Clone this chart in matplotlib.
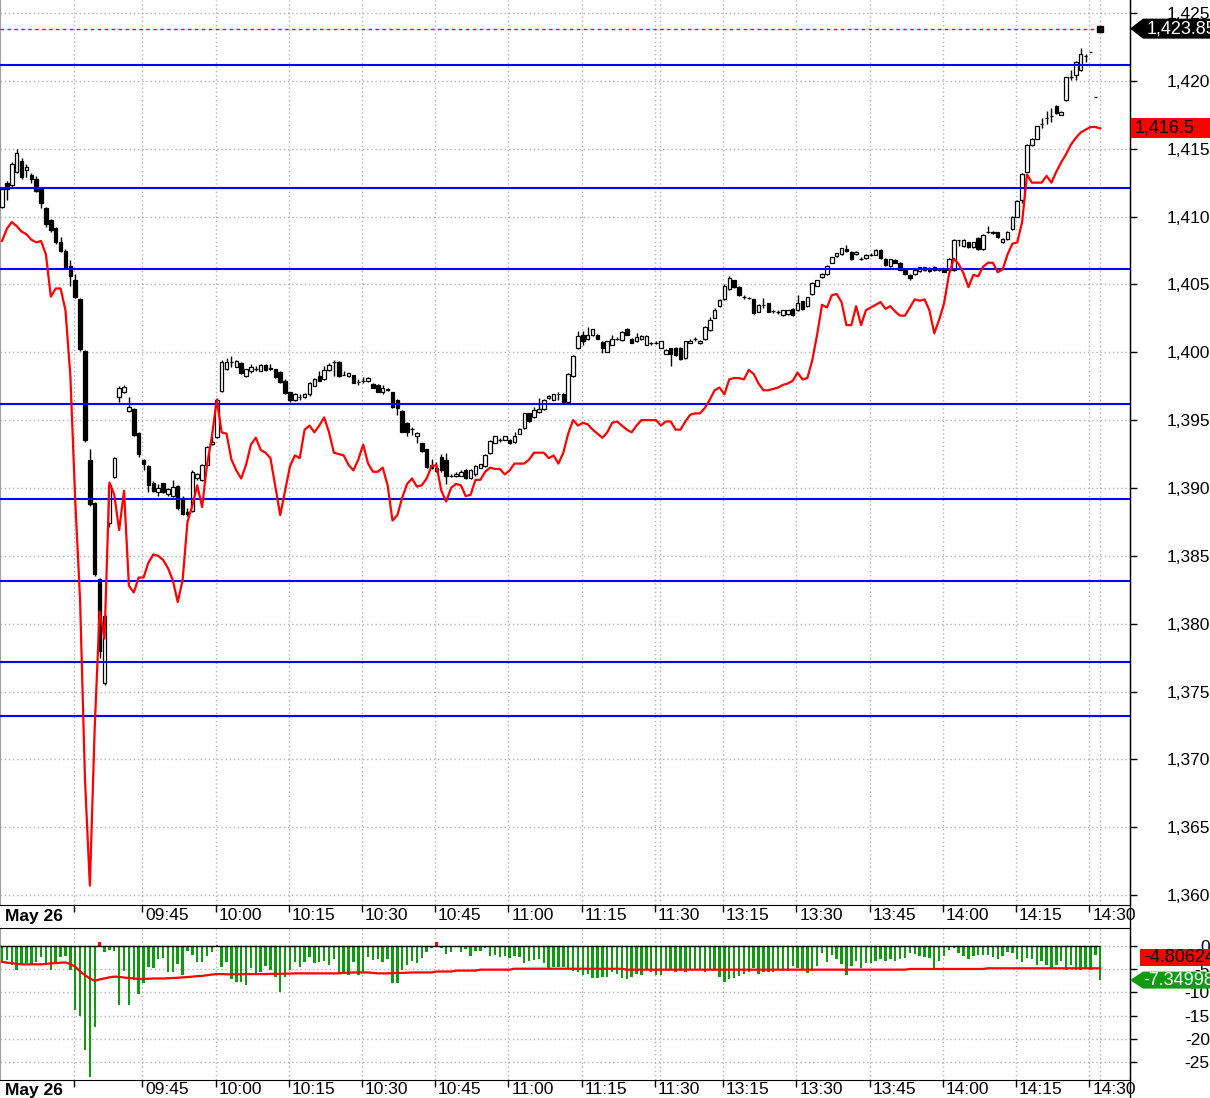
import matplotlib
matplotlib.use("Agg")
import matplotlib.pyplot as plt
import numpy as np
from matplotlib.lines import Line2D
from matplotlib.patches import Polygon
from matplotlib.ticker import FuncFormatter
from matplotlib.transforms import IdentityTransform, blended_transform_factory

plt.rcParams["font.family"] = ["Liberation Sans", "DejaVu Sans"]
plt.rcParams["font.size"] = 12.5

# ---------------------------------------------------------------------
# 1-minute bars, May 26 (09:15-11:30, 13:01-14:33)
# ---------------------------------------------------------------------
opens = [
    1410.7, 1412.5, 1412.3, 1413.3, 1414.1, 1413.4, 1413.1, 1412.75, 1412.0, 1410.6,
    1409.75, 1409.15, 1408.15, 1407.5, 1406.35, 1405.3, 1403.9, 1400.1, 1392.05, 1388.9,
    1383.3, 1375.6, 1387.45, 1390.8, 1396.7, 1397.1, 1395.7, 1395.8, 1394.05, 1392.05,
    1391.6, 1390.4, 1389.7, 1390.35, 1389.55, 1389.4, 1390.15, 1389.25, 1388.2, 1388.3,
    1390.7, 1390.6, 1391.7, 1393.25, 1393.75, 1397.15, 1398.8, 1399.3, 1398.95, 1399.2,
    1398.25, 1398.6, 1398.75, 1398.65, 1399.05, 1398.85, 1398.75, 1398.55, 1397.9, 1397.05,
    1396.5, 1396.7, 1396.7, 1396.9, 1397.55, 1398.25, 1398.0, 1398.7, 1399.3, 1399.3,
    1398.35, 1398.25, 1398.3, 1397.8, 1397.9, 1397.85, 1397.65, 1397.6, 1397.1, 1397.2,
    1397.05, 1396.5, 1395.7, 1394.8, 1394.35, 1393.85, 1393.3, 1392.85, 1391.7, 1391.25,
    1392.3, 1392.05, 1390.9, 1390.85, 1390.9, 1391.35, 1390.7, 1391.0, 1391.5, 1391.6,
    1392.55, 1393.35, 1393.55, 1393.55, 1393.55, 1393.4, 1394.0, 1394.4, 1395.5, 1395.2,
    1395.6, 1395.8, 1396.6, 1396.5, 1396.95, 1396.95, 1396.35, 1398.25, 1400.3, 1401.3,
    1400.95, 1401.25, 1401.3, 1400.75, 1400.05, 1400.55, 1401.0, 1400.9, 1401.75, 1401.0,
    1400.8, 1400.95, 1400.55, 1400.65, 1400.7, 1400.35, 1399.9, 1400.3, 1400.35, 1400.35,
    1399.55, 1400.7, 1400.95, 1400.65, 1400.95, 1401.65, 1402.55, 1403.4, 1403.9, 1404.7,
    1405.3, 1404.8, 1404.1, 1404.0, 1403.9, 1403.0, 1403.5, 1403.6, 1403.05, 1403.0, 1402.75,
    1402.8, 1403.2, 1403.1, 1403.75, 1403.4, 1404.3, 1404.9, 1405.55, 1405.75, 1406.6,
    1407.1, 1407.25, 1407.6, 1407.4, 1407.25, 1406.9, 1406.95, 1407.2, 1407.2, 1407.55,
    1406.9, 1406.35, 1406.8, 1406.6, 1406.05, 1405.7, 1405.75, 1406.0, 1406.25, 1406.2,
    1406.3, 1406.1, 1406.1, 1406.05, 1406.05, 1408.25, 1407.8, 1408.1, 1407.75, 1408.45,
    1407.6, 1408.9, 1408.8, 1408.85, 1408.1, 1408.35, 1409.05, 1410.0, 1411.2, 1413.3,
    1415.25, 1415.75, 1416.85, 1417.3, 1417.4, 1418.15, 1417.5, 1418.6, 1420.3, 1420.45,
    1420.8, 1421.8, 1422.1, 1418.8, 1423.85,
]
closes = [
    1412.0, 1412.0, 1413.9, 1414.7, 1412.9, 1413.65, 1412.8, 1411.9, 1411.0, 1409.45,
    1409.0, 1408.1, 1407.45, 1406.3, 1405.6, 1404.1, 1400.25, 1393.5, 1388.8, 1383.65,
    1378.0, 1380.6, 1390.2, 1392.2, 1397.4, 1397.45, 1396.0, 1393.9, 1392.5, 1391.8,
    1390.25, 1389.8, 1390.0, 1389.7, 1389.95, 1390.1, 1388.5, 1388.1, 1388.05, 1391.2,
    1391.05, 1391.7, 1393.0, 1393.4, 1396.5, 1399.3, 1399.3, 1399.3, 1399.35, 1398.5,
    1398.75, 1398.95, 1398.75, 1399.05, 1398.7, 1398.75, 1398.15, 1397.8, 1397.0, 1396.5,
    1396.9, 1396.7, 1396.9, 1397.75, 1398.0, 1397.9, 1398.7, 1399.05, 1399.3, 1398.25,
    1398.35, 1398.45, 1397.75, 1397.8, 1397.9, 1398.1, 1397.4, 1397.1, 1397.35, 1397.3,
    1395.95, 1395.9, 1394.15, 1394.1, 1394.35, 1394.05, 1392.7, 1391.55, 1391.45, 1391.5,
    1391.3, 1390.85, 1390.9, 1391.0, 1391.2, 1390.7, 1391.35, 1391.65, 1391.75, 1392.4,
    1393.45, 1393.8, 1393.55, 1393.8, 1393.3, 1393.8, 1394.35, 1395.5, 1394.9, 1395.75,
    1395.8, 1396.5, 1396.8, 1396.9, 1396.95, 1396.35, 1398.4, 1399.75, 1401.2, 1400.8,
    1401.3, 1401.7, 1401.0, 1400.35, 1400.8, 1401.0, 1401.0, 1401.5, 1401.3, 1400.7,
    1401.1, 1401.2, 1401.2, 1400.65, 1400.7, 1400.8, 1400.2, 1399.85, 1399.8, 1399.5,
    1400.8, 1400.8, 1400.95, 1400.8, 1401.9, 1402.4, 1403.15, 1403.85, 1404.9, 1405.5,
    1404.8, 1404.2, 1404.1, 1404.0, 1402.9, 1403.5, 1403.5, 1403.0, 1403.05, 1403.0, 1403.1,
    1403.1, 1402.75, 1403.65, 1403.2, 1404.05, 1405.1, 1405.3, 1405.8, 1406.35, 1407.0,
    1407.3, 1407.65, 1407.45, 1406.85, 1407.4, 1406.9, 1407.2, 1407.2, 1407.55, 1406.95,
    1406.4, 1406.85, 1406.6, 1406.1, 1405.75, 1405.45, 1406.1, 1406.25, 1406.05, 1406.0,
    1406.05, 1406.1, 1405.95, 1406.9, 1408.3, 1408.25, 1408.3, 1407.75, 1408.1, 1407.6,
    1408.65, 1408.9, 1408.9, 1408.5, 1408.35, 1408.9, 1410.0, 1411.15, 1413.15, 1415.3,
    1415.75, 1416.65, 1416.85, 1417.3, 1417.4, 1417.6, 1417.7, 1420.25, 1420.3, 1421.4,
    1422.0, 1421.8, 1422.1, 1418.8, 1423.85,
]
highs = [
    1412.1, 1412.6, 1414.0, 1415.0, 1414.3, 1413.9, 1413.2, 1413.0, 1412.1, 1410.7,
    1409.8, 1409.2, 1408.5, 1407.6, 1406.8, 1405.8, 1404.0, 1400.2, 1392.9, 1389.0,
    1383.4, 1380.7, 1390.3, 1392.3, 1397.5, 1397.6, 1396.7, 1395.9, 1394.1, 1392.1,
    1391.7, 1390.5, 1390.3, 1390.4, 1390.0, 1390.6, 1390.2, 1389.4, 1388.5, 1391.3,
    1391.1, 1391.8, 1393.1, 1393.9, 1396.6, 1399.4, 1399.6, 1399.7, 1399.4, 1399.3,
    1398.8, 1399.1, 1399.0, 1399.1, 1399.1, 1399.1, 1398.8, 1398.6, 1398.0, 1397.1,
    1397.0, 1396.9, 1397.0, 1397.8, 1398.1, 1398.6, 1399.0, 1399.2, 1399.4, 1399.35,
    1398.6, 1398.5, 1398.35, 1398.0, 1398.2, 1398.15, 1397.7, 1397.65, 1397.6, 1397.4,
    1397.1, 1396.55, 1395.75, 1394.85, 1394.5, 1394.1, 1393.35, 1392.9, 1392.1, 1391.9,
    1392.5, 1392.6, 1391.0, 1391.2, 1391.3, 1391.4, 1391.4, 1391.7, 1391.8, 1392.5,
    1393.5, 1393.85, 1393.7, 1393.85, 1393.6, 1394.1, 1394.4, 1395.55, 1395.55, 1396.0,
    1396.6, 1396.55, 1396.85, 1396.95, 1397.05, 1397.0, 1398.45, 1399.8, 1401.6, 1401.6,
    1401.9, 1401.75, 1401.35, 1400.8, 1400.85, 1401.3, 1401.1, 1401.55, 1401.8, 1401.05,
    1401.4, 1401.25, 1401.25, 1400.75, 1400.8, 1400.85, 1400.25, 1400.35, 1400.4, 1400.4,
    1400.85, 1400.95, 1401.1, 1400.9, 1401.95, 1402.6, 1403.3, 1403.95, 1405.0, 1405.6,
    1405.35, 1404.85, 1404.2, 1404.1, 1403.95, 1403.55, 1404.0, 1403.65, 1403.15, 1403.1, 1403.15,
    1403.15, 1403.25, 1404.2, 1403.8, 1404.1, 1405.15, 1405.35, 1405.85, 1406.4, 1407.05,
    1407.35, 1407.7, 1407.9, 1407.45, 1407.45, 1407.0, 1407.25, 1407.3, 1407.6, 1407.6,
    1406.95, 1406.9, 1406.85, 1406.65, 1406.1, 1405.75, 1406.15, 1406.3, 1406.3, 1406.25,
    1406.35, 1406.2, 1406.15, 1406.95, 1408.35, 1408.3, 1408.35, 1408.15, 1408.15, 1408.5,
    1408.7, 1409.3, 1408.95, 1408.9, 1408.4, 1408.95, 1410.05, 1411.2, 1413.2, 1415.35,
    1415.8, 1416.7, 1417.3, 1417.8, 1418.0, 1418.2, 1417.75, 1420.3, 1420.8, 1421.45,
    1422.4, 1422.0, 1422.1, 1418.8, 1423.85,
]
lows = [
    1410.6, 1411.2, 1412.2, 1413.2, 1412.8, 1412.9, 1412.5, 1411.8, 1410.65, 1409.2,
    1408.9, 1408.0, 1407.4, 1406.2, 1404.9, 1404.0, 1400.1, 1393.4, 1388.7, 1383.5,
    1377.5, 1375.5, 1387.1, 1390.7, 1396.3, 1397.0, 1395.6, 1393.8, 1392.3, 1391.3,
    1389.7, 1389.7, 1389.4, 1389.6, 1389.4, 1389.3, 1388.4, 1388.0, 1387.9, 1388.2,
    1390.6, 1390.5, 1391.6, 1393.2, 1393.7, 1397.1, 1398.7, 1398.9, 1398.9, 1398.4,
    1398.2, 1398.5, 1398.6, 1398.6, 1398.6, 1398.7, 1398.1, 1397.7, 1396.9, 1396.3,
    1396.4, 1396.5, 1396.6, 1396.8, 1397.5, 1397.85, 1397.95, 1398.6, 1398.25, 1398.2,
    1398.3, 1398.2, 1397.7, 1397.6, 1397.75, 1397.8, 1397.35, 1397.05, 1396.95, 1397.15,
    1395.9, 1395.4, 1394.1, 1393.8, 1393.9, 1393.3, 1392.65, 1391.5, 1391.4, 1391.2,
    1391.2, 1390.3, 1390.8, 1390.8, 1390.85, 1390.65, 1390.65, 1390.9, 1391.45, 1391.55,
    1392.5, 1393.3, 1393.4, 1393.5, 1393.25, 1393.35, 1393.95, 1394.35, 1394.85, 1395.15,
    1395.5, 1395.75, 1396.55, 1396.45, 1396.5, 1396.3, 1396.3, 1398.2, 1400.25, 1400.5,
    1400.9, 1401.2, 1400.95, 1399.95, 1400.0, 1400.5, 1400.9, 1400.85, 1401.25, 1400.65,
    1400.75, 1400.9, 1400.5, 1400.55, 1400.6, 1400.3, 1399.85, 1399.0, 1399.75, 1399.45,
    1399.5, 1400.65, 1400.85, 1400.6, 1400.9, 1401.6, 1402.5, 1403.35, 1403.85, 1404.6,
    1404.75, 1404.15, 1403.9, 1403.9, 1402.85, 1402.95, 1403.3, 1402.95, 1402.9, 1402.8, 1402.7,
    1402.75, 1402.7, 1403.05, 1403.15, 1403.35, 1404.25, 1404.85, 1405.5, 1405.7, 1406.55,
    1407.05, 1407.2, 1407.4, 1406.8, 1407.2, 1406.8, 1406.9, 1407.1, 1407.15, 1406.9,
    1406.35, 1406.3, 1406.55, 1406.05, 1405.7, 1405.3, 1405.7, 1405.95, 1406.0, 1405.95,
    1406.0, 1406.0, 1405.9, 1406.0, 1406.0, 1407.8, 1407.75, 1407.7, 1407.7, 1407.55,
    1407.55, 1408.8, 1408.75, 1408.45, 1408.05, 1408.3, 1409.0, 1409.95, 1411.0, 1413.25,
    1415.2, 1415.7, 1416.5, 1416.8, 1417.0, 1417.55, 1417.45, 1418.55, 1420.1, 1420.1,
    1420.75, 1421.4, 1422.1, 1418.8, 1423.85,
]
# red indicator line drawn over the candles
avg_line = [
    1408.2, 1409.1, 1409.6, 1409.3, 1408.9, 1408.7, 1408.3, 1408.1, 1408.2, 1407.2,
    1404.1, 1404.7, 1404.7, 1403.1, 1398.3, 1389.1, 1381.7, 1368.5, 1360.7, 1372.4,
    1380.9, 1378.9, 1390.4, 1389.5, 1386.9, 1389.8, 1382.8, 1382.3, 1383.4, 1383.4,
    1384.5, 1385.1, 1385.0, 1384.7, 1384.1, 1383.2, 1381.6, 1383.2, 1387.5, 1388.7,
    1390.2, 1388.6, 1391.7, 1393.8, 1396.5, 1394.1, 1394.0, 1392.1, 1391.3, 1390.7,
    1391.7, 1393.2, 1393.7, 1392.8, 1392.6, 1392.2, 1390.1, 1388.0, 1389.8, 1391.6,
    1392.4, 1392.2, 1394.3, 1394.6, 1394.1, 1394.6, 1395.2, 1394.1, 1392.6, 1392.5,
    1392.4, 1391.7, 1391.3, 1392.1, 1393.2, 1391.8, 1391.2, 1391.2, 1391.5, 1390.2,
    1387.6, 1388.0, 1389.3, 1390.3, 1390.7, 1390.1, 1390.2, 1390.7, 1391.6, 1391.7,
    1389.8, 1389.0, 1390.0, 1390.3, 1390.2, 1389.4, 1389.5, 1390.6, 1390.6, 1391.2,
    1391.5, 1391.4, 1391.4, 1391.0, 1391.3, 1391.8, 1391.8, 1391.8, 1392.1, 1392.6,
    1392.6, 1392.6, 1392.2, 1392.4, 1391.8, 1392.6, 1394.0, 1395.0, 1394.6, 1394.8,
    1394.7, 1394.3, 1394.0, 1393.7, 1394.1, 1394.8, 1394.9, 1394.6, 1394.3, 1394.1, 1394.6,
    1395.0, 1395.0, 1395.0, 1395.0, 1394.6, 1394.9, 1394.9, 1394.3, 1394.3, 1394.9,
    1395.4, 1395.5, 1395.5, 1395.9, 1396.5, 1397.2, 1397.4, 1396.9, 1398.0, 1398.1,
    1398.1, 1398.0, 1398.7, 1398.4, 1397.7, 1397.2, 1397.2, 1397.3, 1397.4, 1397.6,
    1397.7, 1397.9, 1398.5, 1398.0, 1398.1, 1399.4, 1401.3, 1403.5, 1403.3, 1404.2,
    1404.3, 1403.7, 1402.0, 1402.0, 1403.4, 1402.0, 1403.1, 1403.3, 1403.5, 1403.7,
    1403.2, 1403.4, 1403.0, 1402.7, 1402.7, 1403.3, 1403.9, 1403.8, 1403.9, 1403.1,
    1401.4, 1402.4, 1403.6, 1405.7, 1406.9, 1406.5, 1405.8, 1404.8, 1405.7, 1405.6,
    1406.3, 1406.6, 1406.6, 1405.9, 1406.1, 1407.2, 1408.0, 1408.1, 1409.6, 1413.1,
    1412.5, 1412.5, 1412.5, 1413.0, 1412.5, 1413.3, 1414.0, 1414.6, 1415.3, 1415.8,
    1416.2, 1416.4, 1416.6, 1416.6, 1416.5,
]
levels = [1421.17, 1412.1, 1406.13, 1396.19, 1389.19, 1383.14, 1377.17, 1373.2]

# lower panel: histogram and its red average
flow = [
    -3.4, -3.0, -4.1, -5.2, -4.1, -3.7, -4.0, -3.4, -2.4, -3.7,
    -5.2, -3.7, -2.4, -2.2, -5.2, -13.9, -15.0, -22.4, -28.2, -17.4,
    0.8, -1.4, -0.9, -1.0, -12.7, -5.3, -12.7, -7.3, -10.4, -8.0,
    -4.5, -4.8, -2.7, -2.6, -5.5, -5.7, -3.9, -6.2, -1.0, -1.9,
    -3.5, -3.4, -2.2, -1.4, 0.3, -4.5, -3.5, -7.1, -7.7, -7.7,
    -8.4, -4.7, -5.9, -5.5, -4.3, -5.2, -6.7, -10.0, -6.7, -5.2,
    -3.5, -4.5, -3.4, -2.3, -3.7, -3.4, -3.3, -4.1, -2.7, -5.9,
    -5.5, -6.2, -3.4, -6.2, -5.5, -2.3, -3.0, -2.8, -3.5, -2.7,
    -8.0, -8.0, -5.2, -4.1, -3.2, -3.7, -2.5, -1.2, -0.5, 0.9,
    -0.5, -1.8, -1.4, -0.3, -1.2, -0.7, -2.1, -1.0, -1.0, -0.5,
    -2.1, -1.9, -2.3, -2.2, -2.5, -2.1, -2.3, -3.6, -3.2, -3.0,
    -2.9, -3.7, -4.7, -4.5, -4.5, -4.6, -5.2, -5.3, -5.7, -6.2,
    -6.1, -6.8, -6.8, -6.6, -6.6, -5.7, -6.1, -6.8, -7.1, -6.6,
    -6.0, -6.2, -5.2, -5.5, -6.2, -6.2, -5.0, -5.2, -5.5, -5.0,
    -5.5, -5.2, -5.2, -5.0, -5.5, -5.2, -5.2, -6.6, -7.7, -7.2,
    -7.0, -6.4, -6.0, -5.5, -4.7, -6.0, -5.7, -5.5, -5.5, -5.0,
    -5.3, -5.3, -4.3, -4.8,
    -5.2, -5.9, -5.3, -4.3, -1.6, -3.4, -1.9, -2.9, -3.9, -6.2,
    -4.4, -3.3, -4.7, -3.7, -3.7, -3.3, -2.9, -3.3, -2.8, -3.3,
    -2.8, -2.6, -1.6, -1.7, -2.2, -2.4, -2.6, -4.7, -3.2, -2.2,
    -0.8, -0.4, -1.6, -2.1, -2.9, -2.2, -1.9, -1.9, -1.9, -2.4,
    -2.8, -2.1, -1.4, -1.5, -2.9, -3.5, -2.6, -2.9, -4.0, -3.3,
    -4.2, -4.7, -4.0, -3.3, -5.1, -4.0, -5.1, -5.2, -4.7, -5.1,
    -1.9, -7.34998,
]
flow_avg = [
    -3.4, -3.6, -3.7, -3.85, -3.95, -3.95, -3.95, -3.95, -3.95, -3.85,
    -3.75, -3.7, -3.6, -3.55, -3.9, -4.45, -5.5, -6.3, -7.0, -7.5,
    -7.2, -7.0, -6.75, -6.6, -6.65, -6.8, -6.9, -7.0, -7.1, -7.1,
    -7.05, -7.0, -7.0, -7.0, -6.95, -6.9, -6.85, -6.75, -6.7, -6.6,
    -6.5, -6.45, -6.3, -6.15, -6.05, -6.05, -6.1, -6.1, -6.1, -6.1,
    -6.05, -6.05, -6.05, -6.05, -6.05, -6.0, -6.0, -6.0, -5.95, -5.95,
    -5.9, -5.9, -5.9, -5.9, -5.9, -5.9, -5.9, -5.9, -5.9, -5.9,
    -5.8, -5.75, -5.7, -5.7, -5.7, -5.7, -5.8, -5.9, -5.9, -5.9,
    -5.85, -5.8, -5.8, -5.75, -5.7, -5.7, -5.7, -5.7, -5.7, -5.5,
    -5.5, -5.5, -5.5, -5.3, -5.3, -5.3, -5.3, -5.3, -5.1, -5.1,
    -5.1, -5.1, -5.1, -5.1, -5.1, -4.9, -4.9, -4.9, -4.9, -4.9,
    -4.9, -4.9, -4.9, -4.9, -4.9, -4.9, -4.9, -4.9, -4.9, -4.9,
    -4.9, -4.9, -4.9, -4.9, -4.9, -4.9, -4.9, -4.9, -5.1, -5.1,
    -5.1, -5.1, -5.1, -5.1, -5.1, -5.1, -5.1, -5.1, -5.1, -5.1,
    -5.1, -5.1, -5.1, -5.1, -5.1, -5.1, -5.1, -5.1, -5.1, -5.1,
    -5.1, -5.1, -5.1, -5.1, -5.1, -5.1, -5.1, -5.1, -5.1, -5.1,
    -5.1, -5.1, -5.1, -5.1, -5.1, -5.1, -5.1, -5.1, -5.1, -5.1,
    -5.1, -5.1, -5.1, -5.1, -5.1, -5.1, -5.1, -5.1, -5.1, -5.1,
    -5.1, -5.1, -5.1, -5.1, -5.1, -5.1, -4.95, -4.95, -4.95, -4.95,
    -4.95, -4.95, -4.95, -4.95, -4.95, -4.95, -4.95, -4.95, -4.95, -4.95,
    -4.95, -4.95, -4.8, -4.8, -4.8, -4.8, -4.8, -4.8, -4.8, -4.8,
    -4.8, -4.8, -4.8, -4.8, -4.8, -4.8, -4.8, -4.8, -4.8, -4.8,
    -4.8, -4.8, -4.8, -4.8, -4.8, -4.80624,
]

tick_bars = [15, 29, 44, 59, 74, 89, 104, 119, 134, 148, 163, 178, 193, 208, 223]
tick_labels = ["09:30", "09:45", "10:00", "10:15", "10:30", "10:45", "11:00", "11:15",
               "11:30", "13:15", "13:30", "13:45", "14:00", "14:15", "14:30"]
session_break_bar = 135
date_label = "May 26"

n = len(closes)
for name, arr in [("opens", opens), ("highs", highs), ("lows", lows),
                  ("avg_line", avg_line), ("flow", flow), ("flow_avg", flow_avg)]:
    if len(arr) != n:
        raise SystemExit(f"{name} has {len(arr)} values, closes has {n}")

# ---------------------------------------------------------------------
# figure
# ---------------------------------------------------------------------
W, H = 1210, 1098
fig = plt.figure(figsize=(W / 100, H / 100), dpi=100)
ax = fig.add_axes([0, 1 - 905 / H, 1130 / W, 905 / H])
ax2 = fig.add_axes([0, 1 - 1080 / H, 1130 / W, 152 / H])

x = np.arange(n)
o, c = np.array(opens), np.array(closes)
hi, lo = np.array(highs), np.array(lows)
XMIN, XMAX = -0.41, 231.1
tick_pos = [b - 0.25 for b in tick_bars]
grid_kw = dict(color="#b4b4b4", lw=1, ls=(0, (1, 2)), zorder=0)

for a in (ax, ax2):
    a.set_xlim(XMIN, XMAX)
    for p in tick_pos + [session_break_bar - 0.25, x[-1]]:
        a.axvline(p, **grid_kw)
    a.set_xticks(tick_pos)
    a.set_xticklabels([])
    a.tick_params(axis="x", direction="out", length=5, width=1, color="black")
    a.spines["left"].set_color("#a0a0a0")
    a.spines["right"].set_color("black")
    a.spines["bottom"].set_color("black")
    a.yaxis.tick_right()
    a.set_facecolor("white")

# price panel
ax.set_ylim(1359.27, 1425.96)
price_ticks = np.arange(1360, 1426, 5)
ax.set_yticks(price_ticks)
for v in price_ticks:
    ax.axhline(v, **grid_kw)
ax.yaxis.set_major_formatter(FuncFormatter(lambda v, p: f"{v:,.0f}"))
ax.spines["top"].set_visible(False)

bottom = np.minimum(o, c)
height = np.abs(c - o)
face = np.where(c < o, "black", "white")
ax.vlines(x[:-1], lo[:-1], hi[:-1], color="black", lw=1, zorder=3)
ax.bar(x[:-1], height[:-1], bottom=bottom[:-1], width=0.72, color=face[:-1],
       edgecolor="black", linewidth=0.9, zorder=4)
ax.plot(x[-1], c[-1], marker="s", ms=4, color="black", zorder=6)

for lv in levels:
    ax.axhline(lv, color="#0000ff", lw=1.5, zorder=4.5)
ax.plot(x, avg_line, color="#ff0000", lw=1.6, zorder=5)
ax.hlines(c[-1], XMIN, x[-1] - 0.8, colors="#ff0000", linestyles=(0, (2.5, 2.5)),
          lw=1.0, zorder=5)

# indicator panel
ax2.set_ylim(-28.88, 3.88)
flow_ticks = np.arange(-25, 1, 5)
ax2.set_yticks(flow_ticks)
for v in flow_ticks:
    ax2.axhline(v, **grid_kw)
ax2.yaxis.set_major_formatter(FuncFormatter(lambda v, p: f"{int(round(v))}"))
ax2.spines["top"].set_color("black")
fl = np.array(flow)
ax2.bar(x, fl, width=0.5, color=np.where(fl > 0, "#ff0000", "#109a10"), zorder=2)
ax2.hlines(0, XMIN, x[-1], colors="black", lw=1, zorder=3)
ax2.plot(x, flow_avg, color="#ff0000", lw=1.6, zorder=4)

# right-hand value labels, right aligned
for a in (ax, ax2):
    a.tick_params(axis="y", direction="out", length=5, width=1, pad=52.5,
                  labelsize=12.5, color="black")
    plt.setp(a.get_yticklabels(), ha="right")

# time labels below each panel
for a, yoff in ((ax, -11 / 905), (ax2, -10 / 152)):
    tr = blended_transform_factory(a.transData, a.transAxes)
    a.text(0.6, yoff, date_label, transform=tr, ha="left", va="center",
           fontsize=12.5, fontweight="bold", clip_on=False)
    for p, lab in zip(tick_pos[1:], tick_labels[1:]):
        a.text(p + 0.6, yoff, lab, transform=tr, ha="left", va="center",
               fontsize=12.5, clip_on=False)

# continuous right border through the label bands
xr = 1130 / W
fig.add_artist(Line2D([xr, xr], [0, 1], transform=fig.transFigure, color="black", lw=1))


def tag(a, ypix, text, face, fg, arrow, half, left):
    xr_px = a.transAxes.transform((1, 0))[0]
    if arrow:
        verts = [(xr_px, ypix), (xr_px + 13, ypix + half), (W + 5, ypix + half),
                 (W + 5, ypix - half), (xr_px + 13, ypix - half)]
    else:
        verts = [(xr_px + left, ypix + half), (W + 5, ypix + half),
                 (W + 5, ypix - half), (xr_px + left, ypix - half)]
    fig.add_artist(Polygon(verts, closed=True, transform=IdentityTransform(),
                           facecolor=face, edgecolor="none", zorder=10))
    fig.text(xr_px + left + 4, ypix, text, transform=IdentityTransform(), ha="left",
             va="center", color=fg, fontsize=13, zorder=11)


y_last = ax.transData.transform((0, c[-1]))[1]
y_avg = ax.transData.transform((0, avg_line[-1]))[1]
tag(ax, y_last, f"{c[-1]:,.2f}", "black", "white", True, 10, 13)
tag(ax, y_avg, f"{avg_line[-1]:,.1f}", "#ff0000", "black", False, 10, 1)

y_flow = ax2.transData.transform((0, flow[-1]))[1]
tag(ax2, y_flow, f"{flow[-1]:.5f}", "#109a10", "white", True, 8.5, 9)
tag(ax2, y_flow + 23, f"{flow_avg[-1]:.5f}", "#ff0000", "black", False, 8.5, 10)

fig.savefig("out.png", dpi=100)
